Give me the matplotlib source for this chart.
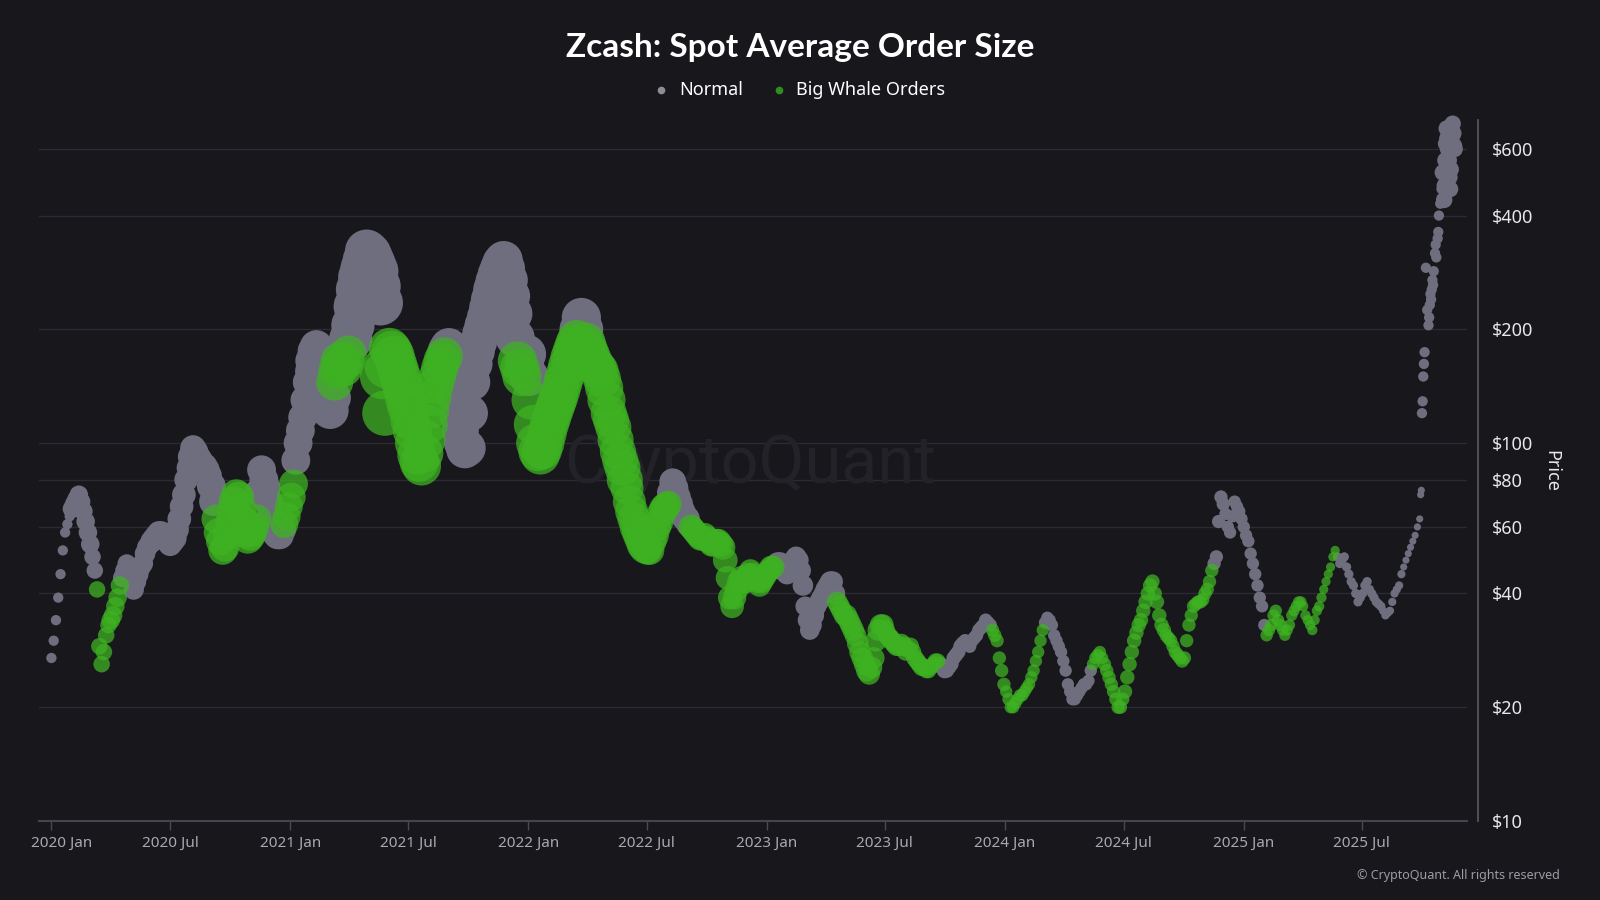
import numpy as np
import pandas as pd
import matplotlib
matplotlib.use("Agg")
import matplotlib.pyplot as plt
from matplotlib.lines import Line2D
from matplotlib.ticker import FixedLocator, NullLocator, FuncFormatter
from matplotlib.transforms import ScaledTranslation

# ---------------- data ----------------
# price sampled every 3.5 days from 2020-01-01
series_start = "2020-01-01"
price_3d5 = [
    27, 30, 34, 39, 45, 52, 58, 61, 64, 67, 69, 71, 73, 70, 66, 62, 58, 54, 50, 46,
    41, 29, 26, 28, 31, 33, 34, 35, 37, 39, 42, 44, 46, 48, 47, 44, 41, 43, 45, 47,
    48, 51, 53, 54, 55, 56, 57, 58, 58, 57, 56, 55, 54, 55, 56, 59, 63, 68, 73, 80,
    86, 92, 97, 95, 92, 90, 88, 87, 85, 82, 77, 70, 63, 58, 55, 52, 53, 57, 62, 66,
    70, 73, 72, 67, 62, 58, 56, 57, 58, 60, 63, 74, 85, 80, 76, 70, 64, 60, 58, 57,
    57, 59, 61, 64, 68, 72, 78, 90, 100, 108, 117, 130, 145, 155, 165, 175, 180, 165, 150, 140,
    130, 125, 122, 132, 145, 155, 165, 160, 158, 165, 172, 188, 205, 230, 255, 275, 290, 305, 322, 315,
    305, 295, 285, 260, 235, 150, 120, 160, 178, 175, 170, 162, 155, 148, 140, 132, 125, 115, 108, 100,
    93, 89, 87, 94, 102, 112, 122, 132, 142, 150, 158, 165, 170, 176, 180, 165, 150, 132, 118, 108,
    100, 96, 97, 120, 145, 162, 175, 185, 195, 205, 215, 228, 240, 255, 268, 280, 290, 300, 305, 290,
    270, 245, 220, 190, 165, 158, 150, 162, 172, 150, 130, 112, 100, 95, 93, 96, 100, 106, 112, 117,
    122, 127, 132, 138, 145, 152, 160, 168, 175, 182, 188, 200, 215, 200, 185, 178, 172, 166, 160, 158,
    155, 148, 140, 130, 120, 115, 110, 102, 95, 90, 86, 80, 76, 70, 66, 63, 60, 58, 56, 54,
    53, 52, 52, 55, 57, 60, 62, 65, 67, 68, 69, 74, 79, 76, 72, 69, 66, 64, 63, 61,
    60, 59, 58, 57, 56, 56, 57, 56, 55, 54, 54, 55, 55, 54, 53, 49, 44, 39, 37, 39,
    41, 43, 44, 43, 43, 45, 46, 45, 44, 43, 42, 43, 44, 45, 46, 47, 47, 47, 48, 48,
    47, 46, 45, 46, 48, 49, 50, 49, 46, 42, 37, 34, 32, 33, 35, 37, 38, 39, 40, 41,
    42, 43, 43, 40, 38, 37, 36, 35, 35, 34, 33, 32, 31, 29.5, 28, 27, 26, 25, 24.5, 25.5,
    27, 30, 32, 33, 33, 32, 31, 30.5, 30, 29.5, 29, 29, 29.5, 29, 28, 28.5, 29, 28, 27, 26.5,
    26, 25.5, 25.5, 25, 25, 25.5, 26, 26.5, 26.5, 26, 25.5, 25, 25, 25.5, 26, 27, 27.5, 28, 29, 29.5,
    30, 29.5, 29, 30, 30.5, 31, 32, 32.5, 33, 34, 33.5, 33, 32, 31, 30, 27, 25, 23, 22, 21,
    20, 20, 20.5, 21, 21.5, 21.5, 22, 22.5, 23, 24, 25, 26.5, 28, 30, 32, 33.5, 34.5, 34, 33, 31,
    30, 29, 28, 26.5, 25, 23, 22, 21, 21, 21.5, 22, 22.5, 23, 23, 23.5, 25, 26, 27, 27.5, 28,
    27, 26, 25, 24, 23, 22, 21, 20, 20, 21, 22, 24, 26, 28, 30, 31.5, 33, 34, 36, 38,
    40, 42, 43, 40, 38, 35, 33, 32, 31, 30.5, 30, 29, 28, 27.5, 27, 26.5, 27, 30, 33, 35,
    37, 37.5, 38, 38, 38.5, 40, 41, 43, 46, 48, 50, 62, 72, 69, 65, 60, 58, 64, 70, 68,
    66, 63, 60, 57, 55, 51, 48, 45, 42, 39, 37, 33, 31, 32, 33, 35, 36, 34, 33, 32,
    31, 32, 33, 35, 36, 37, 38, 38, 37, 35, 34, 33, 32, 34, 36, 37, 39, 41, 43, 45,
    47, 50, 52, 50, 48, 49, 50, 47, 45, 43, 42, 40, 38, 39, 40, 42, 43, 41, 40, 39,
    38, 37.5, 37, 36, 35, 35.5, 36, 38, 40, 41, 42, 45, 47, 49, 51, 53, 55, 57, 60, 63,
]

rally_dates = [
    "2025-09-29", "2025-09-30", "2025-10-01", "2025-10-02",
    "2025-10-03", "2025-10-04", "2025-10-05", "2025-10-07", "2025-10-09",
    "2025-10-11", "2025-10-12", "2025-10-13", "2025-10-14", "2025-10-15",
    "2025-10-16", "2025-10-17", "2025-10-18", "2025-10-19", "2025-10-21",
    "2025-10-22", "2025-10-23", "2025-10-25", "2025-10-26", "2025-10-27",
    "2025-10-29", "2025-10-31", "2025-11-02", "2025-11-04", "2025-11-05",
    "2025-11-06", "2025-11-07", "2025-11-08", "2025-11-09", "2025-11-10",
    "2025-11-11", "2025-11-12", "2025-11-13", "2025-11-14", "2025-11-15",
    "2025-11-16", "2025-11-17", "2025-11-18", "2025-11-19", "2025-11-20",
]
rally_price = [
    73, 75, 120, 129, 150, 162, 174, 291, 225,
    205, 215, 232, 248, 240, 255, 270, 262, 285, 318,
    335, 310, 348, 362, 400, 430, 470, 520, 440, 480,
    560, 620, 680, 640, 600, 560, 505, 470, 530, 600,
    650, 700, 660, 612, 600,
]

# periods in which big whale orders dominate (inclusive)
whale_periods = [
    ("2020-03-10", "2020-04-16"), ("2020-09-08", "2020-11-12"),
    ("2020-12-22", "2021-01-07"), ("2021-03-09", "2021-04-01"),
    ("2021-05-20", "2021-08-26"), ("2021-12-14", "2021-12-23"),
    ("2022-01-04", "2022-03-17"), ("2022-03-29", "2022-08-04"),
    ("2022-09-06", "2023-01-12"), ("2023-04-18", "2023-09-21"),
    ("2023-12-12", "2024-02-29"), ("2024-05-14", "2024-11-14"),
    ("2025-02-04", "2025-05-22"),
]

# relative average order size per month, 2020-01 .. 2025-11
order_size = [
    25, 81, 64, 81, 100, 121, 132, 156, 196, 225, 196, 182,
    196, 256, 324, 441, 484, 400, 361, 324, 324, 324, 342, 361,
    361, 361, 361, 342, 306, 256, 196, 169, 144, 144, 132, 121,
    121, 100, 90, 100, 110, 110, 90, 72, 56, 49, 42, 42,
    36, 36, 36, 36, 36, 42, 49, 49, 42, 42, 42, 36,
    36, 36, 30, 25, 20, 20, 20, 16, 12, 25, 64,
]

y_ticks = [10, 20, 40, 60, 80, 100, 200, 400, 600]
x_ticks = ["2020-01-01", "2020-07-01", "2021-01-01", "2021-07-01",
           "2022-01-01", "2022-07-01", "2023-01-01", "2023-07-01",
           "2024-01-01", "2024-07-01", "2025-01-01", "2025-07-01"]

title = "Zcash: Spot Average Order Size"
legend_labels = ["Normal", "Big Whale Orders"]

# ---------------- styling ----------------
BG = "#17171c"
GRID = "#2b2b31"
GRAY = "#6f6e7f"
GREEN = "#3eb222"
W, H = 1600, 900

plt.rcParams["font.family"] = ["Noto Sans", "DejaVu Sans"]

dates = pd.date_range(series_start, periods=len(price_3d5), freq="84h").append(
    pd.to_datetime(rally_dates))
price = np.array(list(price_3d5) + list(rally_price), dtype=float)

whale = np.zeros(len(dates), dtype=bool)
for a, b in whale_periods:
    whale |= (dates >= pd.Timestamp(a)) & (dates <= pd.Timestamp(b) + pd.Timedelta(hours=23))

month_idx = np.asarray((dates.year - 2020) * 12 + dates.month - 1)
size_v = np.array(order_size, dtype=float)[month_idx]
area = 2.2 * size_v  # ~ radius in px = sqrt(value) at dpi 100

fig = plt.figure(figsize=(16, 9), dpi=100, facecolor=BG)
ax = fig.add_axes([39 / W, 79 / H, (1467 - 39) / W, (821 - 120) / H])
ax.set_facecolor(BG)

ax.set_yscale("log")
ax.set_ylim(10, 716)
ax.set_xlim(pd.Timestamp("2019-12-13"), pd.Timestamp("2025-12-09"))

for v in y_ticks[1:]:
    ax.axhline(v, color=GRID, lw=1.0, zorder=0)

# watermark
ax.text(0.498, 0.507, "CryptoQuant", transform=ax.transAxes, ha="center",
        va="center", fontsize=48, color="#222228", family=["Roboto", "DejaVu Sans"],
        zorder=0.5)

ax.scatter(dates[~whale], price[~whale], s=area[~whale], c=GRAY,
           linewidths=0, zorder=2, clip_on=False)
ax.scatter(dates[whale], price[whale], s=area[whale], c=GREEN, alpha=0.75,
           linewidths=0, zorder=3, clip_on=False)

# y axis on the right
ax.yaxis.tick_right()
ax.yaxis.set_major_locator(FixedLocator(y_ticks))
ax.yaxis.set_minor_locator(NullLocator())
ax.yaxis.set_major_formatter(FuncFormatter(lambda v, p: f"${v:.0f}"))
ax.tick_params(axis="y", length=0, pad=10, labelsize=13, labelcolor="#e8e8ec")

# x axis
ax.xaxis.set_major_locator(FixedLocator(
    [matplotlib.dates.date2num(pd.Timestamp(d)) for d in x_ticks]))
ax.xaxis.set_major_formatter(matplotlib.dates.DateFormatter("%Y %b"))
ax.xaxis.set_minor_locator(NullLocator())
ax.tick_params(axis="x", length=6.5, width=1, color="#4a4a52", pad=4,
               labelsize=11, labelcolor="#a8a8b0")

for side in ("top", "left"):
    ax.spines[side].set_visible(False)
ax.spines["bottom"].set_color("#45454c")
ax.spines["bottom"].set_linewidth(1.5)
ax.spines["right"].set_color("#55555c")
ax.spines["right"].set_linewidth(1.3)
ax.spines["right"].set_position(("outward", 8))

fig.canvas.draw()
first = ax.get_xticklabels()[0]
first.set_transform(first.get_transform() + ScaledTranslation(10 / 100, 0, fig.dpi_scale_trans))

fig.text(1551 / W, 1 - 471 / H, "Price", rotation=270, ha="center",
         va="center", fontsize=13, color="#e8e8ec")

fig.text(0.5, 1 - 47 / H, title, ha="center", va="center", fontsize=24,
         fontweight="bold", color="white", family=["Lato", "DejaVu Sans"])

# legend
leg_y = 1 - 90 / H
fig.add_artist(Line2D([661 / W], [leg_y], transform=fig.transFigure, marker="o",
                      ms=4.5, color="#8d8d97", lw=0))
fig.text(679 / W, leg_y, legend_labels[0], ha="left", va="center", fontsize=13,
         color="white")
fig.add_artist(Line2D([779 / W], [leg_y], transform=fig.transFigure, marker="o",
                      ms=4.5, color="#2e8f1c", lw=0))
fig.text(796 / W, leg_y, legend_labels[1], ha="left", va="center", fontsize=13,
         color="white")

fig.text(1560 / W, 1 - 875 / H, "\u00a9 CryptoQuant. All rights reserved",
         ha="right", va="center", fontsize=9, color="#9c9ca4")

fig.savefig("out.png", dpi=100, facecolor=BG)
